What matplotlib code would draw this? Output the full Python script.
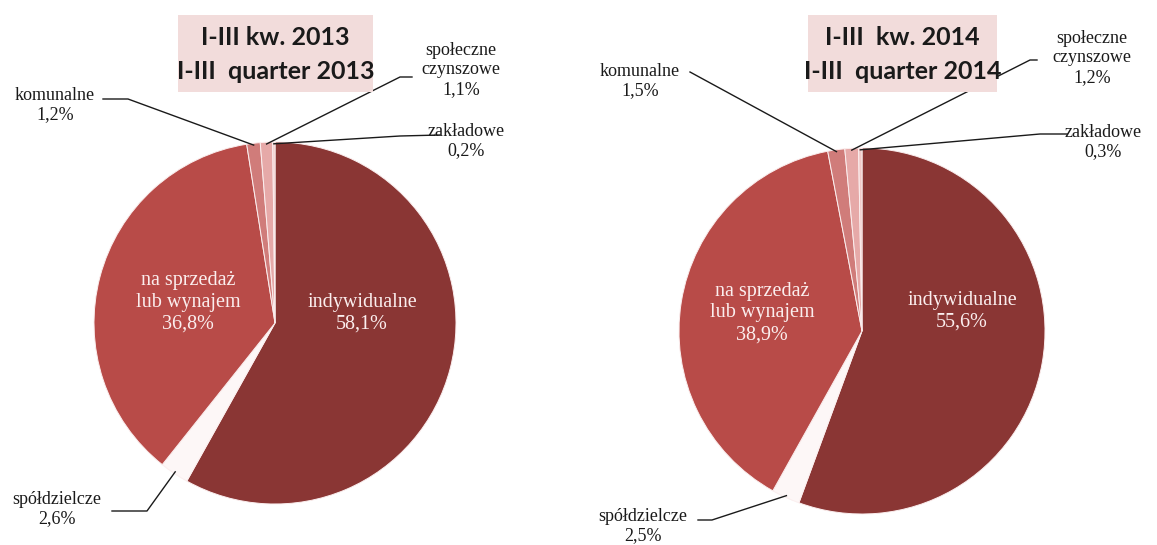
import numpy as np
import matplotlib
matplotlib.use('Agg')
import matplotlib.pyplot as plt

SERIF = ['Liberation Serif', 'DejaVu Serif']
plt.rcParams['font.family'] = SERIF

categories = ['indywidualne', 'spółdzielcze', 'na sprzedaż\nlub wynajem',
              'komunalne', 'społeczne\nczynszowe', 'zakładowe']
values_2013 = [58.1, 2.6, 36.8, 1.2, 1.1, 0.2]
values_2014 = [55.6, 2.5, 38.9, 1.5, 1.2, 0.3]
titles = ['I-III kw. 2013\nI-III  quarter 2013', 'I-III  kw. 2014\nI-III  quarter 2014']

colors = ['#8a3634', '#fdf7f7', '#b84b48', '#d07c7a', '#e6a9a8', '#f1cac9']

W, H = 1157, 545
fig = plt.figure(figsize=(W / 100, H / 100), dpi=100)
ax = fig.add_axes([0, 0, 1, 1])


def fmt(v):
    return f'{v:.1f}'.replace('.', ',') + '%'


def draw(vals, cx, cy, r, title, box, outer):
    # y axis is inverted, so counterclock=True runs clockwise on screen
    ax.pie(vals, colors=colors, startangle=-90, counterclock=True, center=(cx, cy),
           radius=r, wedgeprops=dict(edgecolor='#fbeeee', linewidth=0.7), frame=True)
    cum = np.cumsum([0] + vals) / 100.0
    mids = (cum[:-1] + cum[1:]) / 2

    def pt(i, rr=1.0):
        a = np.deg2rad(90 - mids[i] * 360)
        return cx + rr * r * np.cos(a), cy - rr * r * np.sin(a)

    # inner labels
    for i, (dx, dy) in [(0, outer['in0']), (2, outer['in2'])]:
        ax.text(dx, dy, categories[i] + '\n' + fmt(vals[i]), color='#fbeeee',
                ha='center', va='center', fontsize=14.5, linespacing=1.2,
                family=SERIF)
    # outer labels with leader lines
    for i in [1, 3, 4, 5]:
        (tx, ty), line = outer[i]
        ax.text(tx, ty, categories[i] + '\n' + fmt(vals[i]), color='#1a1a1a',
                ha='center', va='center', fontsize=13, linespacing=1.2,
                family=SERIF)
        px, py = pt(i, 0.99)
        xs = [p[0] for p in line] + [px]
        ys = [p[1] for p in line] + [py]
        ax.plot(xs, ys, color='#1a1a1a', lw=1.0)

    x0, y0, x1, y1 = box
    ax.add_patch(plt.Rectangle((x0, y0), x1 - x0, y1 - y0, facecolor='#f2dcdb',
                               edgecolor='none', zorder=3))
    ax.text((x0 + x1) / 2, (y0 + y1) / 2 + 1, title, ha='center', va='center',
            fontsize=18, fontweight='bold', family=['Lato', 'DejaVu Sans'],
            color='#1a1a1a', linespacing=1.6, zorder=4)


draw(values_2013, 275, 323, 181, titles[0], (178, 15, 373, 92), {
    'in0': (362, 313), 'in2': (188, 302),
    1: ((57, 509), [(112, 511), (147, 511)]),
    3: ((55, 105), [(103, 99), (128, 99)]),
    4: ((461, 70), [(412, 77), (400, 77)]),
    5: ((466, 141), [(440, 135), (400, 136)]),
})
draw(values_2014, 862, 331, 183, titles[1], (808, 15, 997, 92), {
    'in0': (962, 311), 'in2': (762, 313),
    1: ((643, 526), [(698, 520), (712, 520)]),
    3: ((640, 81), [(690, 72)]),
    4: ((1092, 58), [(1037, 60), (1030, 60)]),
    5: ((1103, 142), [(1067, 134), (1040, 134)]),
})

ax.set_xlim(0, W)
ax.set_ylim(H, 0)
ax.set_aspect('auto')
ax.axis('off')

fig.savefig('out.png', dpi=100, facecolor='white')
